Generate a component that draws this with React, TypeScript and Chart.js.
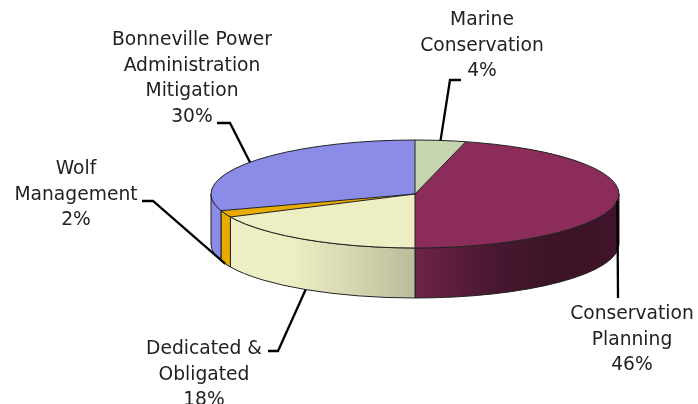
import React, { useEffect, useRef } from "react";
import { Chart, registerables } from "chart.js";

Chart.register(...registerables);

// ---- data ----
const categories: string[][] = [
  ["Marine", "Conservation"],
  ["Conservation", "Planning"],
  ["Dedicated &", "Obligated"],
  ["Wolf", "Management"],
  ["Bonneville Power", "Administration", "Mitigation"],
];
const values: number[] = [4, 46, 18, 2, 30];

// ---- styles / layout ----
const colors = ["#c6d4b0", "#8b2c5b", "#eeeec4", "#e8ac00", "#8b8be8"];
const CX = 415, CY = 194, RX = 204, RY = 54, DEPTH = 50;
const SHADE: [number, number][] = [
  [0, 1.0], [0.2, 1.0], [0.5, 0.79], [0.7, 0.52], [0.85, 0.43], [1, 0.46],
];
const FONT = '18.7px "DejaVu Sans", Verdana, sans-serif';
const LINE_H = 25.7;
const labelLayout = [
  { path: [[450, 80], [461, 80]], x: 482, y: 20, from: "top" },
  { path: [[618, 298]], x: 632, y: 314, from: "top" },
  { path: [[278, 351], [268, 351]], x: 204, y: 349, from: "bottom" },
  { path: [[153, 201], [142, 201]], x: 76, y: 169, from: "bottom" },
  { path: [[230, 123], [217, 123]], x: 192, y: 40, from: "top" },
];

function shade(hex: string, f: number) {
  const n = parseInt(hex.slice(1), 16);
  const r = Math.min(255, Math.round(((n >> 16) & 255) * f));
  const g = Math.min(255, Math.round(((n >> 8) & 255) * f));
  const b = Math.min(255, Math.round((n & 255) * f));
  return `rgb(${r},${g},${b})`;
}

const pie3d = {
  id: "pie3d",
  beforeDatasetsDraw(chart: any) {
    const ctx = chart.ctx as CanvasRenderingContext2D;
    const arcs = chart.getDatasetMeta(0).data;
    arcs.forEach((arc: any, i: number) => {
      const { startAngle, endAngle } = arc.getProps(["startAngle", "endAngle"], true);
      const a = Math.max(startAngle, 0);
      const b = Math.min(endAngle, Math.PI);
      if (b <= a) return;
      ctx.save();
      ctx.beginPath();
      ctx.ellipse(CX, CY, RX, RY, 0, a, b, false);
      ctx.ellipse(CX, CY + DEPTH, RX, RY, 0, b, a, true);
      ctx.closePath();
      const g = ctx.createLinearGradient(CX - RX, 0, CX + RX, 0);
      SHADE.forEach(([t, f]) => g.addColorStop(t, shade(colors[i], f)));
      ctx.fillStyle = g;
      ctx.fill();
      ctx.strokeStyle = "#222";
      ctx.lineWidth = 1;
      ctx.stroke();
      ctx.restore();
    });
    const a0 = arcs[0];
    ctx.save();
    ctx.translate(CX, CY);
    ctx.scale(RX / a0.outerRadius, RY / a0.outerRadius);
    ctx.translate(-a0.x, -a0.y);
  },
  afterDatasetsDraw(chart: any) {
    const ctx = chart.ctx as CanvasRenderingContext2D;
    ctx.restore();
    const arcs = chart.getDatasetMeta(0).data;
    // top face outline & dividers
    ctx.save();
    ctx.strokeStyle = "#222";
    ctx.lineWidth = 1;
    ctx.beginPath();
    ctx.ellipse(CX, CY, RX, RY, 0, 0, Math.PI * 2);
    ctx.stroke();
    arcs.forEach((arc: any) => {
      const { startAngle } = arc.getProps(["startAngle"], true);
      ctx.beginPath();
      ctx.moveTo(CX, CY);
      ctx.lineTo(CX + RX * Math.cos(startAngle), CY + RY * Math.sin(startAngle));
      ctx.stroke();
    });
    ctx.restore();
    // leader lines & labels
    ctx.save();
    ctx.strokeStyle = "#000";
    ctx.lineWidth = 2.3;
    ctx.font = FONT;
    ctx.fillStyle = "#222";
    ctx.textAlign = "center";
    ctx.textBaseline = "middle";
    arcs.forEach((arc: any, i: number) => {
      const { startAngle, endAngle } = arc.getProps(["startAngle", "endAngle"], true);
      const m = (startAngle + endAngle) / 2;
      const L = labelLayout[i];
      const sx = CX + RX * Math.cos(m);
      const sy = CY + RY * Math.sin(m) + (L.from === "bottom" ? DEPTH : 0);
      ctx.beginPath();
      ctx.moveTo(sx, sy);
      L.path.forEach(([px, py]) => ctx.lineTo(px, py));
      ctx.stroke();
      const lines = [...categories[i], `${values[i]}%`];
      lines.forEach((t, k) => ctx.fillText(t, L.x, L.y + k * LINE_H));
    });
    ctx.restore();
  },
};

export default function App() {
  const ref = useRef<HTMLCanvasElement>(null);
  useEffect(() => {
    if (!ref.current) return;
    const chart = new Chart(ref.current, {
      type: "pie",
      data: {
        labels: categories.map((c) => c.join(" ")),
        datasets: [
          {
            data: values,
            backgroundColor: colors,
            borderWidth: 0,
            clip: false,
          } as any,
        ],
      },
      options: {
        responsive: false,
        animation: false,
        events: [],
        plugins: { legend: { display: false }, tooltip: { enabled: false } },
      },
      plugins: [pie3d],
    });
    return () => chart.destroy();
  }, []);
  return (
    <canvas
      ref={ref}
      width={698}
      height={404}
      style={{ position: "absolute", left: 0, top: 0, width: 698, height: 404, background: "#fff" }}
    />
  );
}
